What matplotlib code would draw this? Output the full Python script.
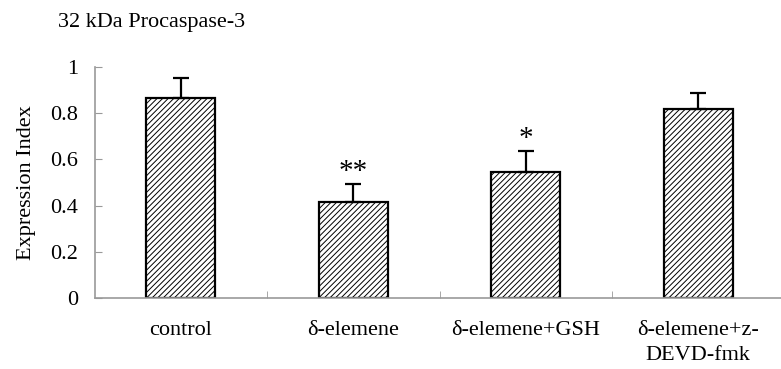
import numpy as np
import matplotlib
matplotlib.use('Agg')
import matplotlib.pyplot as plt

# Data
groups = ['control', 'δ-elemene', 'δ-elemene+GSH', 'δ-elemene+z-\nDEVD-fmk']
means = [0.864, 0.414, 0.547, 0.818]
errors = [0.088, 0.080, 0.090, 0.070]
marks = ['', '**', '*', '']

plt.rcParams['font.family'] = ['Liberation Serif', 'DejaVu Serif']
plt.rcParams['hatch.linewidth'] = 0.7
plt.rcParams['hatch.color'] = '#333333'

fig = plt.figure(figsize=(7.81, 3.69), dpi=100)
ax = fig.add_axes([94.5 / 781, 0.1916, 1 - 94.5 / 781, 0.8192 - 0.1916])

x = np.arange(1, len(groups) + 1)
ax.bar(x, means, width=0.4, color='white', edgecolor='black', linewidth=1.6,
       hatch='//////', zorder=2)
ax.errorbar(x, means, yerr=[np.zeros(len(x)), errors], fmt='none', ecolor='black',
            elinewidth=1.6, capsize=5.8, capthick=1.6, zorder=3)

for xi, m, e, s in zip(x, means, errors, marks):
    if s:
        ax.text(xi, m + e + 0.02, s, ha='center', va='baseline', fontsize=21)

ax.set_xlim(0.5, 0.5 + (781 - 94.5) / 172.5)
ax.set_ylim(0, 1)
ax.set_yticks([0, 0.2, 0.4, 0.6, 0.8, 1])
ax.set_yticklabels(['0', '0.2', '0.4', '0.6', '0.8', '1'])
ax.set_xticks(x)
ax.set_xticklabels(groups, fontsize=16, linespacing=1.45)
ax.set_xticks([1.5, 2.5, 3.5], minor=True)

ax.tick_params(axis='y', direction='in', length=5, color='#999999', labelsize=16, pad=12)
ax.tick_params(axis='x', which='major', length=0, pad=16)
ax.tick_params(axis='x', which='minor', direction='in', length=5, color='#999999')

for side in ['top', 'right']:
    ax.spines[side].set_visible(False)
for side in ['left', 'bottom']:
    ax.spines[side].set_color('#999999')
    ax.spines[side].set_linewidth(1.2)

ax.set_ylabel('Expression Index', fontsize=16, labelpad=10)
fig.text(58 / 781, 1 - 22 / 369, '32 kDa Procaspase-3', fontsize=16, va='center', ha='left')

fig.savefig('out.png', dpi=100)
